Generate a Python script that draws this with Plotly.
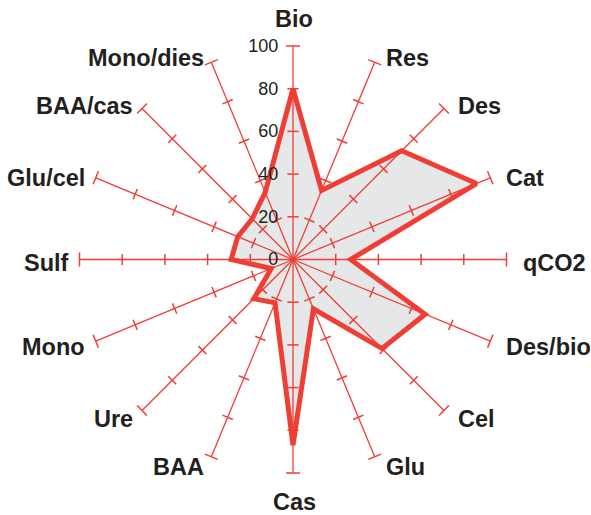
import math
import plotly.graph_objects as go

# Radar chart of soil enzyme / microbial indices
categories = ["Bio", "Res", "Des", "Cat", "qCO2", "Des/bio", "Cel", "Glu",
              "Cas", "BAA", "Ure", "Mono", "Sulf", "Glu/cel", "BAA/cas", "Mono/dies"]
values = [80, 35, 72, 93, 27, 67, 59, 25, 87, 22, 26, 11, 29, 28, 27, 34]
radial_ticks = [0, 20, 40, 60, 80, 100]

RED = "#ef3e36"
DARK = "#231f20"

W, H = 591, 515
M = dict(l=79, r=84, t=46, b=42)

n = len(categories)
spoke_angles = [i * 360 / n for i in range(n)]

fig = go.Figure()

# Filled profile
fig.add_trace(
    go.Scatterpolar(
        r=values + [values[0]],
        theta=categories + [categories[0]],
        mode="lines",
        fill="toself",
        fillcolor="#e6e7e8",
        line=dict(color=RED, width=5),
        showlegend=False,
        hoverinfo="skip",
    )
)

# Spokes drawn on top of the fill
for cat in categories:
    fig.add_trace(
        go.Scatterpolar(
            r=[radial_ticks[0], radial_ticks[-1]],
            theta=[cat, cat],
            mode="lines",
            line=dict(color=RED, width=1.3),
            showlegend=False,
            hoverinfo="skip",
        )
    )

# Tick marks across each spoke
tick_r, tick_theta, tick_ang = [], [], []
for cat, ang in zip(categories, spoke_angles):
    for t in radial_ticks[1:-1]:
        tick_r.append(t)
        tick_theta.append(cat)
        tick_ang.append(ang)

fig.add_trace(
    go.Scatterpolar(
        r=tick_r,
        theta=tick_theta,
        mode="markers",
        marker=dict(symbol="line-ew", size=8, angle=tick_ang,
                    line=dict(color=RED, width=1.5)),
        showlegend=False,
        hoverinfo="skip",
    )
)

# End caps
fig.add_trace(
    go.Scatterpolar(
        r=[radial_ticks[-1]] * n,
        theta=categories,
        mode="markers",
        marker=dict(symbol="line-ew", size=10, angle=spoke_angles,
                    line=dict(color=RED, width=1.5)),
        showlegend=False,
        hoverinfo="skip",
    )
)

# Category labels placed just beyond the end of each spoke
pw = W - M["l"] - M["r"]
ph = H - M["t"] - M["b"]
R = min(pw, ph) / 2
cx = M["l"] + pw / 2
cy = M["t"] + ph / 2

annotations = []
for cat, ang in zip(categories, spoke_angles):
    a = math.radians(ang)
    s, c = math.sin(a), math.cos(a)
    ex, ey = cx + R * s, cy - R * c
    if abs(s) < 1e-6:
        px, anchor = ex + 1, "center"
        py = ey - 27 if c > 0 else ey + 29
    elif s > 0:
        px, anchor = ex + 7 + 7 * abs(s), "left"
        py = ey - 8 * c + 3
    else:
        px, anchor = ex - 3 - 6 * abs(s), "right"
        py = ey - 8 * c + 3
    annotations.append(
        dict(
            text=cat,
            x=(px - M["l"]) / pw,
            y=1 - (py - M["t"]) / ph,
            xref="paper",
            yref="paper",
            xanchor=anchor,
            yanchor="middle",
            showarrow=False,
            font=dict(size=23.5, color=DARK, weight="bold"),
        )
    )

fig.update_layout(
    width=W,
    height=H,
    margin=M,
    paper_bgcolor="white",
    plot_bgcolor="white",
    font=dict(family="Liberation Sans, Arial, sans-serif", color=DARK),
    annotations=annotations,
    polar=dict(
        bgcolor="white",
        radialaxis=dict(
            range=[0, 100],
            angle=90,
            tickangle=90,
            tickvals=radial_ticks,
            ticks="outside",
            ticklen=8,
            tickcolor="rgba(0,0,0,0)",
            side="counterclockwise",
            showline=False,
            showgrid=False,
            tickfont=dict(size=18, color=DARK),
        ),
        angularaxis=dict(
            categoryarray=categories,
            categoryorder="array",
            rotation=90,
            direction="clockwise",
            showline=False,
            showgrid=False,
            showticklabels=False,
            ticks="",
        ),
    ),
)

fig.write_html("out.html", config={"displayModeBar": False},
               post_script="document.body.style.margin='0';")
